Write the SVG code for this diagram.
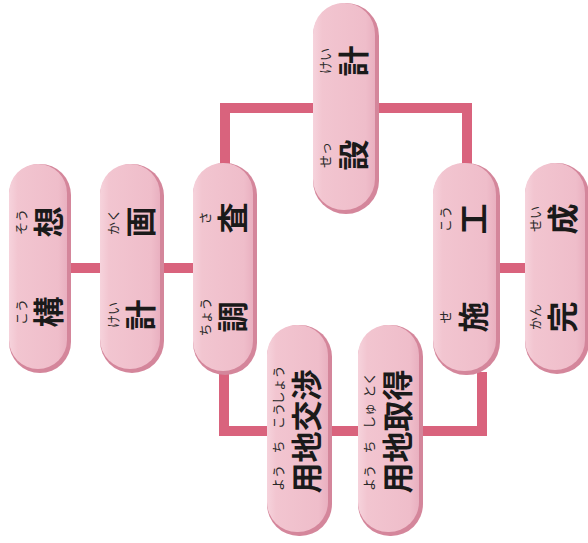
<svg xmlns="http://www.w3.org/2000/svg" width="588" height="543" viewBox="0 0 588 543">
<defs>
<linearGradient id="pg" x1="0" y1="0" x2="1" y2="0">
<stop offset="0" stop-color="#f6d3dc"/>
<stop offset="0.15" stop-color="#f2c5d0"/>
<stop offset="0.85" stop-color="#efbdca"/>
<stop offset="1" stop-color="#e9b0c0"/>
</linearGradient>
<style>
.base{fill:#d4869b}
.body{fill:url(#pg)}
.con{fill:none;stroke:#d9637d;stroke-width:10;stroke-linejoin:miter}
.k{font-family:"Noto Sans CJK JP","Noto Sans",sans-serif;font-size:31px;font-weight:bold;fill:#1a1a1a;text-anchor:middle;dominant-baseline:central}
.f{font-family:"Noto Sans CJK JP","Noto Sans",sans-serif;font-size:13px;fill:#2a2a2a;text-anchor:middle;dominant-baseline:central}
</style>
</defs>
<rect width="588" height="543" fill="#ffffff"/>
<g id="connectors">
<path class="con" d="M70 268 H102"/>
<path class="con" d="M162 268 H195"/>
<path class="con" d="M225 166 V108 H315"/>
<path class="con" d="M377 108 H467 V167"/>
<path class="con" d="M498 268 H527"/>
<path class="con" d="M224 372 V431 H269"/>
<path class="con" d="M330 431 H360"/>
<path class="con" d="M421 431 H482 V372"/>
</g>
<g id="node-kousou">
<rect class="base" x="9" y="164" width="62" height="209" rx="31"/>
<rect class="body" x="9" y="164" width="58" height="205" rx="29"/>
<g transform="translate(40,269) rotate(-90)">
<text class="k" x="-43" y="6">構</text><text class="f" x="-43" y="-20">こう</text>
<text class="k" x="47" y="6">想</text><text class="f" x="47" y="-20">そう</text>
</g>
</g>
<g id="node-keikaku">
<rect class="base" x="100" y="164" width="64" height="209" rx="32"/>
<rect class="body" x="100" y="164" width="60" height="205" rx="30"/>
<g transform="translate(132,269) rotate(-90)">
<text class="k" x="-46" y="6">計</text><text class="f" x="-46" y="-20">けい</text>
<text class="k" x="47" y="6">画</text><text class="f" x="47" y="-20">かく</text>
</g>
</g>
<g id="node-chousa">
<rect class="base" x="193" y="163" width="64" height="212" rx="32"/>
<rect class="body" x="193" y="163" width="60" height="208" rx="30"/>
<g transform="translate(225,269) rotate(-90)">
<text class="k" x="-48" y="5">調</text><text class="f" x="-48" y="-21">ちょう</text>
<text class="k" x="51" y="5">査</text><text class="f" x="51" y="-21">さ</text>
</g>
</g>
<g id="node-sekkei">
<rect class="base" x="313" y="3" width="66" height="211" rx="33"/>
<rect class="body" x="313" y="3" width="62" height="207" rx="31"/>
<g transform="translate(346,108) rotate(-90)">
<text class="k" x="-47" y="5">設</text><text class="f" x="-47" y="-22">せっ</text>
<text class="k" x="47" y="5">計</text><text class="f" x="47" y="-22">けい</text>
</g>
</g>
<g id="node-sekou">
<rect class="base" x="433" y="163" width="67" height="212" rx="33"/>
<rect class="body" x="433" y="163" width="63" height="208" rx="31"/>
<g transform="translate(467,269) rotate(-90)">
<text class="k" x="-48" y="4">施</text><text class="f" x="-48" y="-23">せ</text>
<text class="k" x="50" y="4">工</text><text class="f" x="50" y="-23">こう</text>
</g>
</g>
<g id="node-kansei">
<rect class="base" x="525" y="163" width="64" height="211" rx="32"/>
<rect class="body" x="525" y="163" width="60" height="207" rx="30"/>
<g transform="translate(556,269) rotate(-90)">
<text class="k" x="-48" y="4">完</text><text class="f" x="-48" y="-22">かん</text>
<text class="k" x="50" y="4">成</text><text class="f" x="50" y="-22">せい</text>
</g>
</g>
<g id="node-youchikoushou">
<rect class="base" x="267" y="325" width="65" height="211" rx="32"/>
<rect class="body" x="267" y="325" width="61" height="207" rx="30"/>
<g transform="translate(300,431) rotate(-90)">
<text class="k" x="-47" y="4">用</text><text class="f" x="-47" y="-23">よう</text>
<text class="k" x="-16" y="4">地</text><text class="f" x="-16" y="-23">ち</text>
<text class="k" x="15" y="4">交</text><text class="f" x="15" y="-23">こう</text>
<text class="k" x="46" y="4">渉</text><text class="f" x="46" y="-23">しょう</text>
</g>
</g>
<g id="node-youchishutoku">
<rect class="base" x="358" y="325" width="65" height="211" rx="32"/>
<rect class="body" x="358" y="325" width="61" height="207" rx="30"/>
<g transform="translate(391,431) rotate(-90)">
<text class="k" x="-47" y="4">用</text><text class="f" x="-47" y="-23">よう</text>
<text class="k" x="-16" y="4">地</text><text class="f" x="-16" y="-23">ち</text>
<text class="k" x="15" y="4">取</text><text class="f" x="15" y="-23">しゅ</text>
<text class="k" x="46" y="4">得</text><text class="f" x="46" y="-23">とく</text>
</g>
</g>
</svg>
